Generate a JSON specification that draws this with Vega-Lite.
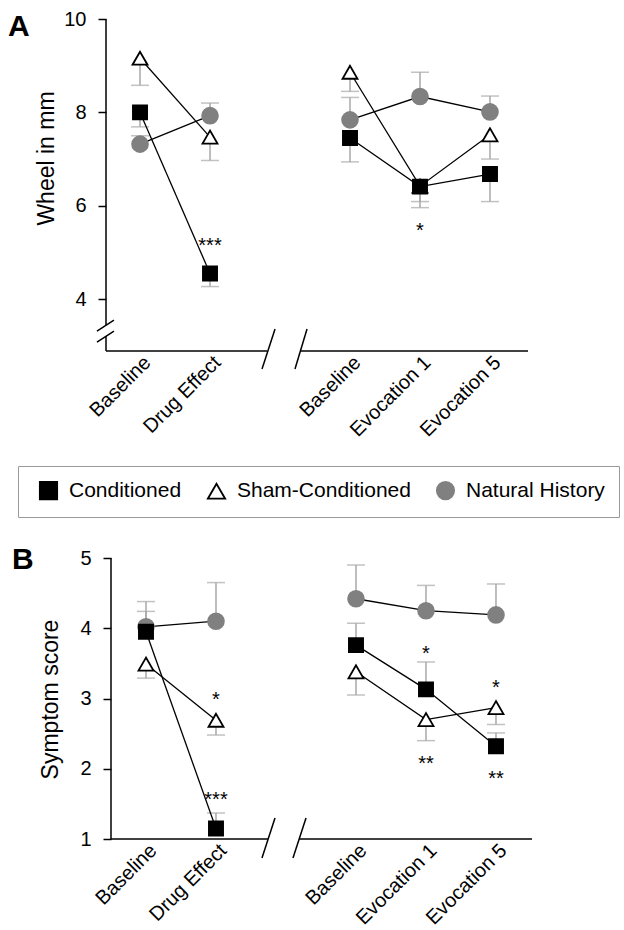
{
  "$schema": "https://vega.github.io/schema/vega-lite/v6.json",
  "padding": {"left": 8, "top": 9, "right": 4, "bottom": 4},
  "bounds": "flush",
  "spacing": 207,
  "config": {
    "view": {"stroke": null},
    "font": "Liberation Sans",
    "axis": {"grid": false, "labelColor": "black", "titleColor": "black", "domainColor": "black", "tickColor": "black", "labelFont": "Liberation Sans", "titleFont": "Liberation Sans", "titleFontWeight": "normal", "tickWidth": 1.5, "domainWidth": 1.5},
    "title": {"font": "Liberation Sans", "fontWeight": "bold", "fontSize": 30, "color": "black"}
  },
  "datasets": {
    "pts": [
      {"p": "A", "group": "Natural History", "seg": 1, "x": 1, "y": 7.32, "e": 7.5},
      {"p": "A", "group": "Natural History", "seg": 1, "x": 2, "y": 7.93, "e": 8.2},
      {"p": "A", "group": "Natural History", "seg": 2, "x": 4, "y": 7.84, "e": 8.32},
      {"p": "A", "group": "Natural History", "seg": 2, "x": 5, "y": 8.34, "e": 8.86},
      {"p": "A", "group": "Natural History", "seg": 2, "x": 6, "y": 8.01, "e": 8.35},
      {"p": "A", "group": "Sham-Conditioned", "seg": 1, "x": 1, "y": 9.16, "e": 8.58},
      {"p": "A", "group": "Sham-Conditioned", "seg": 1, "x": 2, "y": 7.47, "e": 6.97},
      {"p": "A", "group": "Sham-Conditioned", "seg": 2, "x": 4, "y": 8.86, "e": 8.45},
      {"p": "A", "group": "Sham-Conditioned", "seg": 2, "x": 5, "y": 6.42, "e": 5.96},
      {"p": "A", "group": "Sham-Conditioned", "seg": 2, "x": 6, "y": 7.52, "e": 7.0},
      {"p": "A", "group": "Conditioned", "seg": 1, "x": 1, "y": 8.0, "e": 7.69},
      {"p": "A", "group": "Conditioned", "seg": 1, "x": 2, "y": 4.55, "e": 4.27},
      {"p": "A", "group": "Conditioned", "seg": 2, "x": 4, "y": 7.45, "e": 6.94},
      {"p": "A", "group": "Conditioned", "seg": 2, "x": 5, "y": 6.41, "e": 6.09},
      {"p": "A", "group": "Conditioned", "seg": 2, "x": 6, "y": 6.68, "e": 6.09},
      {"p": "B", "group": "Natural History", "seg": 1, "x": 1, "y": 4.02, "e": 4.38},
      {"p": "B", "group": "Natural History", "seg": 1, "x": 2, "y": 4.1, "e": 4.65},
      {"p": "B", "group": "Natural History", "seg": 2, "x": 4, "y": 4.42, "e": 4.9},
      {"p": "B", "group": "Natural History", "seg": 2, "x": 5, "y": 4.25, "e": 4.61},
      {"p": "B", "group": "Natural History", "seg": 2, "x": 6, "y": 4.19, "e": 4.63},
      {"p": "B", "group": "Sham-Conditioned", "seg": 1, "x": 1, "y": 3.49, "e": 3.29},
      {"p": "B", "group": "Sham-Conditioned", "seg": 1, "x": 2, "y": 2.69, "e": 2.48},
      {"p": "B", "group": "Sham-Conditioned", "seg": 2, "x": 4, "y": 3.38, "e": 3.05},
      {"p": "B", "group": "Sham-Conditioned", "seg": 2, "x": 5, "y": 2.7, "e": 2.4},
      {"p": "B", "group": "Sham-Conditioned", "seg": 2, "x": 6, "y": 2.87, "e": 2.63},
      {"p": "B", "group": "Conditioned", "seg": 1, "x": 1, "y": 3.95, "e": 4.24},
      {"p": "B", "group": "Conditioned", "seg": 1, "x": 2, "y": 1.15, "e": 1.37},
      {"p": "B", "group": "Conditioned", "seg": 2, "x": 4, "y": 3.76, "e": 4.07},
      {"p": "B", "group": "Conditioned", "seg": 2, "x": 5, "y": 3.13, "e": 3.52},
      {"p": "B", "group": "Conditioned", "seg": 2, "x": 6, "y": 2.32, "e": 2.51}
    ],
    "stars": [
      {"p": "A", "x": 2, "y": 5.02, "label": "***"},
      {"p": "A", "x": 5, "y": 5.34, "label": "*"},
      {"p": "B", "x": 2, "y": 2.9, "label": "*"},
      {"p": "B", "x": 2, "y": 1.47, "label": "***"},
      {"p": "B", "x": 5, "y": 3.55, "label": "*"},
      {"p": "B", "x": 5, "y": 1.98, "label": "**"},
      {"p": "B", "x": 6, "y": 3.07, "label": "*"},
      {"p": "B", "x": 6, "y": 1.77, "label": "**"}
    ],
    "axes": [
      {"p": "A", "x": 0.514, "x2": 0.514, "y": 10, "y2": 3.446},
      {"p": "A", "x": 0.514, "x2": 0.514, "y": 3.21, "y2": 2.89},
      {"p": "A", "x": 0.385, "x2": 0.628, "y": 3.318, "y2": 3.553},
      {"p": "A", "x": 0.385, "x2": 0.628, "y": 3.082, "y2": 3.318},
      {"p": "A", "x": 0.514, "x2": 2.814, "y": 2.89, "y2": 2.89},
      {"p": "A", "x": 2.743, "x2": 2.929, "y": 2.504, "y2": 3.361},
      {"p": "A", "x": 3.214, "x2": 3.386, "y": 2.504, "y2": 3.361},
      {"p": "A", "x": 3.286, "x2": 6.543, "y": 2.89, "y2": 2.89},
      {"p": "B", "x": 0.5, "x2": 0.5, "y": 5, "y2": 1},
      {"p": "B", "x": 0.5, "x2": 2.743, "y": 1, "y2": 1},
      {"p": "B", "x": 2.657, "x2": 2.843, "y": 0.729, "y2": 1.3},
      {"p": "B", "x": 3.1, "x2": 3.286, "y": 0.729, "y2": 1.3},
      {"p": "B", "x": 3.186, "x2": 6.514, "y": 1, "y2": 1}
    ]
  },
  "vconcat": [
    {
      "width": 422,
      "height": 332,
      "title": {"text": "A", "anchor": "start", "frame": "group", "offset": 0, "dx": -98, "dy": 57, "baseline": "alphabetic"},
      "layer": [
        {
          "data": {"name": "axes"},
          "transform": [{"filter": "datum.p == 'A'"}],
          "mark": {"type": "rule", "color": "black", "strokeWidth": 1.5},
          "encoding": {
            "x": {"field": "x", "type": "quantitative", "scale": {"domain": [0.514, 6.543], "nice": false, "zero": false},
              "axis": {"values": [1, 2, 4, 5, 6], "labelExpr": "datum.value == 2 ? 'Drug Effect' : datum.value == 5 ? 'Evocation 1' : datum.value == 6 ? 'Evocation 5' : 'Baseline'", "labelAngle": -45, "labelFontSize": 20, "labelOverlap": false, "labelBound": false, "domain": false, "ticks": false, "tickSize": 0, "labelPadding": 1, "title": null}},
            "x2": {"field": "x2"},
            "y": {"field": "y", "type": "quantitative", "scale": {"domain": [2.89, 10], "nice": false, "zero": false},
              "axis": {"values": [4, 6, 8, 10], "domain": false, "tickSize": 8, "labelPadding": 12, "labelFontSize": 20, "labelOverlap": false, "title": "Wheel in mm", "titleFontSize": 23, "titleX": -53, "titleY": 139, "titleBaseline": "alphabetic", "titleAngle": -90, "titleAlign": "center"}},
            "y2": {"field": "y2"}
          }
        },
        {
          "data": {"name": "pts"},
          "transform": [{"filter": "datum.p == 'A'"}],
          "mark": {"type": "rule", "color": "#a8a8a8", "strokeWidth": 1.5},
          "encoding": {"x": {"field": "x", "type": "quantitative"}, "y": {"field": "y", "type": "quantitative"}, "y2": {"field": "e"}}
        },
        {
          "data": {"name": "pts"},
          "transform": [{"filter": "datum.p == 'A'"}],
          "mark": {"type": "tick", "orient": "horizontal", "color": "#a8a8a8", "size": 18, "thickness": 1.5},
          "encoding": {"x": {"field": "x", "type": "quantitative"}, "y": {"field": "e", "type": "quantitative"}}
        },
        {
          "data": {"name": "pts"},
          "transform": [{"filter": "datum.p == 'A'"}],
          "mark": {"type": "line", "color": "black", "strokeWidth": 1.3},
          "encoding": {"x": {"field": "x", "type": "quantitative"}, "y": {"field": "y", "type": "quantitative"}, "detail": [{"field": "group"}, {"field": "seg"}]}
        },
        {
          "data": {"name": "pts"},
          "transform": [{"filter": "datum.p == 'A'"}],
          "mark": {"type": "point", "opacity": 1, "fillOpacity": 1, "strokeOpacity": 1, "strokeWidth": 1.8},
          "encoding": {
            "x": {"field": "x", "type": "quantitative"},
            "y": {"field": "y", "type": "quantitative"},
            "shape": {"field": "group", "type": "nominal", "scale": {"domain": ["Conditioned", "Sham-Conditioned", "Natural History"], "range": ["square", "triangle-up", "circle"]},
              "legend": {"title": null, "orient": "none", "legendX": -88, "legendY": 447, "direction": "horizontal", "strokeColor": "#9a9a9a", "fillColor": "white", "padding": 14, "labelFontSize": 21, "labelFont": "Liberation Sans", "labelColor": "black", "symbolSize": 300, "symbolStrokeWidth": 1.8, "columnPadding": 18, "labelOffset": 10, "symbolOffset": 6, "labelLimit": 400}},
            "fill": {"field": "group", "type": "nominal", "scale": {"domain": ["Conditioned", "Sham-Conditioned", "Natural History"], "range": ["black", "white", "#808080"]},
              "legend": {"title": null, "orient": "none", "legendX": -88, "legendY": 447, "direction": "horizontal", "strokeColor": "#9a9a9a", "fillColor": "white", "padding": 14, "labelFontSize": 21, "labelFont": "Liberation Sans", "labelColor": "black", "symbolSize": 300, "symbolStrokeWidth": 1.8, "columnPadding": 18, "labelOffset": 10, "symbolOffset": 6, "labelLimit": 400}},
            "stroke": {"field": "group", "type": "nominal", "scale": {"domain": ["Conditioned", "Sham-Conditioned", "Natural History"], "range": ["black", "black", "#808080"]},
              "legend": {"title": null, "orient": "none", "legendX": -88, "legendY": 447, "direction": "horizontal", "strokeColor": "#9a9a9a", "fillColor": "white", "padding": 14, "labelFontSize": 21, "labelFont": "Liberation Sans", "labelColor": "black", "symbolSize": 300, "symbolStrokeWidth": 1.8, "columnPadding": 18, "labelOffset": 10, "symbolOffset": 6, "labelLimit": 400}},
            "size": {"field": "group", "type": "nominal", "scale": {"domain": ["Conditioned", "Sham-Conditioned", "Natural History"], "range": [200, 250, 250]}, "legend": null}
          }
        },
        {
          "data": {"name": "stars"},
          "transform": [{"filter": "datum.p == 'A'"}],
          "mark": {"type": "text", "fontSize": 20, "color": "black", "baseline": "alphabetic", "align": "center"},
          "encoding": {"x": {"field": "x", "type": "quantitative"}, "y": {"field": "y", "type": "quantitative"}, "text": {"field": "label"}}
        }
      ]
    },
    {
      "width": 428,
      "height": 281,
      "title": {"text": "B", "anchor": "start", "frame": "group", "offset": 0, "dx": -94, "dy": 51, "baseline": "alphabetic"},
      "layer": [
        {
          "data": {"name": "axes"},
          "transform": [{"filter": "datum.p == 'B'"}],
          "mark": {"type": "rule", "color": "black", "strokeWidth": 1.5},
          "encoding": {
            "x": {"field": "x", "type": "quantitative", "scale": {"domain": [0.4286, 6.543], "nice": false, "zero": false},
              "axis": {"values": [1, 2, 4, 5, 6], "labelExpr": "datum.value == 2 ? 'Drug Effect' : datum.value == 5 ? 'Evocation 1' : datum.value == 6 ? 'Evocation 5' : 'Baseline'", "labelAngle": -45, "labelFontSize": 20, "labelOverlap": false, "labelBound": false, "domain": false, "ticks": false, "tickSize": 0, "labelPadding": 1, "title": null}},
            "x2": {"field": "x2"},
            "y": {"field": "y", "type": "quantitative", "scale": {"domain": [1, 5], "nice": false, "zero": false},
              "axis": {"values": [1, 2, 3, 4, 5], "format": "d", "domain": false, "offset": -5, "tickSize": 8, "labelPadding": 12, "labelFontSize": 20, "labelOverlap": false, "title": "Symptom score", "titleFontSize": 23, "titleX": -54, "titleY": 141, "titleBaseline": "alphabetic", "titleAngle": -90, "titleAlign": "center"}},
            "y2": {"field": "y2"}
          }
        },
        {
          "data": {"name": "pts"},
          "transform": [{"filter": "datum.p == 'B'"}],
          "mark": {"type": "rule", "color": "#a8a8a8", "strokeWidth": 1.5},
          "encoding": {"x": {"field": "x", "type": "quantitative"}, "y": {"field": "y", "type": "quantitative"}, "y2": {"field": "e"}}
        },
        {
          "data": {"name": "pts"},
          "transform": [{"filter": "datum.p == 'B'"}],
          "mark": {"type": "tick", "orient": "horizontal", "color": "#a8a8a8", "size": 18, "thickness": 1.5},
          "encoding": {"x": {"field": "x", "type": "quantitative"}, "y": {"field": "e", "type": "quantitative"}}
        },
        {
          "data": {"name": "pts"},
          "transform": [{"filter": "datum.p == 'B'"}],
          "mark": {"type": "line", "color": "black", "strokeWidth": 1.3},
          "encoding": {"x": {"field": "x", "type": "quantitative"}, "y": {"field": "y", "type": "quantitative"}, "detail": [{"field": "group"}, {"field": "seg"}]}
        },
        {
          "data": {"name": "pts"},
          "transform": [{"filter": "datum.p == 'B'"}],
          "mark": {"type": "point", "opacity": 1, "fillOpacity": 1, "strokeOpacity": 1, "strokeWidth": 1.8},
          "encoding": {
            "x": {"field": "x", "type": "quantitative"},
            "y": {"field": "y", "type": "quantitative"},
            "shape": {"field": "group", "type": "nominal", "legend": null},
            "fill": {"field": "group", "type": "nominal", "legend": null},
            "stroke": {"field": "group", "type": "nominal", "legend": null},
            "size": {"field": "group", "type": "nominal", "legend": null}
          }
        },
        {
          "data": {"name": "stars"},
          "transform": [{"filter": "datum.p == 'B'"}],
          "mark": {"type": "text", "fontSize": 20, "color": "black", "baseline": "alphabetic", "align": "center"},
          "encoding": {"x": {"field": "x", "type": "quantitative"}, "y": {"field": "y", "type": "quantitative"}, "text": {"field": "label"}}
        }
      ]
    }
  ],
  "resolve": {"scale": {"shape": "shared", "fill": "shared", "stroke": "shared", "size": "shared"}, "legend": {"shape": "independent", "fill": "independent", "stroke": "independent"}}
}
